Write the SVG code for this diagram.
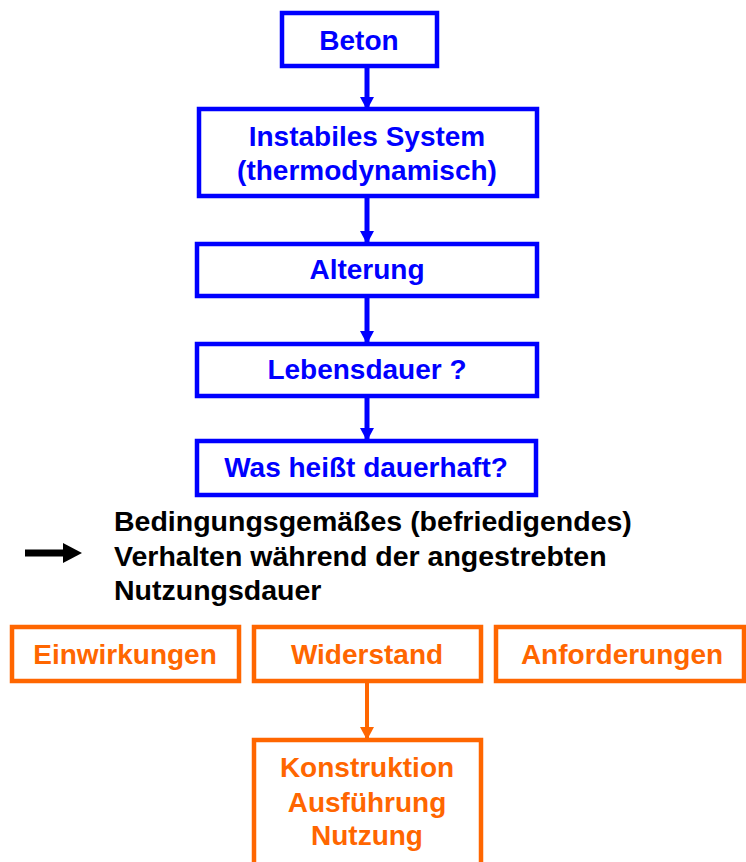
<svg xmlns="http://www.w3.org/2000/svg" width="746" height="862" viewBox="0 0 746 862">
  <style>
    .bx { fill: #ffffff; stroke-width: 4.5; }
    .blue { stroke: #0000ff; }
    .orange { stroke: #ff6600; }
    .t { font-family: "Liberation Sans", Arial, sans-serif; font-weight: bold; font-size: 28px; text-anchor: middle; }
    .tb { fill: #0000ff; }
    .to { fill: #ff6600; }
    .tk { fill: #000000; text-anchor: start; font-size: 28.5px; }
    .cb { stroke: #0000ff; stroke-width: 5; fill: none; }
    .co { stroke: #ff6600; stroke-width: 4; fill: none; }
  </style>
  <defs>
    <marker id="ahBlue" viewBox="0 0 13 14" refX="13" refY="7" markerWidth="13" markerHeight="14" markerUnits="userSpaceOnUse" orient="auto">
      <path d="M0,0 L13,7 L0,14 z" fill="#0000ff"/>
    </marker>
    <marker id="ahOrange" viewBox="0 0 13 14" refX="13" refY="7" markerWidth="13" markerHeight="14" markerUnits="userSpaceOnUse" orient="auto">
      <path d="M0,0 L13,7 L0,14 z" fill="#ff6600"/>
    </marker>
  </defs>

  <!-- connectors -->
  <g id="connectors">
    <line class="cb" x1="367" y1="66" x2="367" y2="110" marker-end="url(#ahBlue)"/>
    <line class="cb" x1="367" y1="196" x2="367" y2="244" marker-end="url(#ahBlue)"/>
    <line class="cb" x1="367" y1="296" x2="367" y2="344" marker-end="url(#ahBlue)"/>
    <line class="cb" x1="367" y1="396" x2="367" y2="441" marker-end="url(#ahBlue)"/>
    <line class="co" x1="367" y1="681" x2="367" y2="740" marker-end="url(#ahOrange)"/>
    <!-- black implication arrow -->
    <line x1="25" y1="553" x2="65" y2="553" stroke="#000000" stroke-width="7"/>
    <path d="M63,543 L82,553 L63,563 z" fill="#000000"/>
  </g>

  <!-- blue chain -->
  <g id="beton">
    <rect class="bx blue" x="282" y="13" width="155" height="53"/>
    <text class="t tb" x="359" y="50">Beton</text>
  </g>
  <g id="instabil">
    <rect class="bx blue" x="199" y="109" width="338" height="87"/>
    <text class="t tb" x="367" y="146">Instabiles System</text>
    <text class="t tb" x="367" y="180">(thermodynamisch)</text>
  </g>
  <g id="alterung">
    <rect class="bx blue" x="197" y="244" width="340" height="52"/>
    <text class="t tb" x="367" y="279">Alterung</text>
  </g>
  <g id="lebensdauer">
    <rect class="bx blue" x="197" y="344" width="340" height="52"/>
    <text class="t tb" x="367" y="379">Lebensdauer ?</text>
  </g>
  <g id="dauerhaft">
    <rect class="bx blue" x="197" y="441" width="339" height="54"/>
    <text class="t tb" x="366" y="477">Was heißt dauerhaft?</text>
  </g>

  <!-- definition -->
  <g id="definition">
    <text class="t tk" x="114" y="531">Bedingungsgemäßes (befriedigendes)</text>
    <text class="t tk" x="114" y="566">Verhalten während der angestrebten</text>
    <text class="t tk" x="114" y="600">Nutzungsdauer</text>
  </g>

  <!-- orange row -->
  <g id="einwirkungen">
    <rect class="bx orange" x="12" y="627" width="227" height="54"/>
    <text class="t to" x="125" y="664">Einwirkungen</text>
  </g>
  <g id="widerstand">
    <rect class="bx orange" x="254" y="627" width="227" height="54"/>
    <text class="t to" x="367" y="664">Widerstand</text>
  </g>
  <g id="anforderungen">
    <rect class="bx orange" x="496" y="627" width="248" height="54"/>
    <text class="t to" x="622" y="664">Anforderungen</text>
  </g>
  <g id="konstruktion">
    <rect class="bx orange" x="254" y="740" width="227" height="130"/>
    <text class="t to" x="367" y="777">Konstruktion</text>
    <text class="t to" x="367" y="812">Ausführung</text>
    <text class="t to" x="367" y="845">Nutzung</text>
  </g>
</svg>
